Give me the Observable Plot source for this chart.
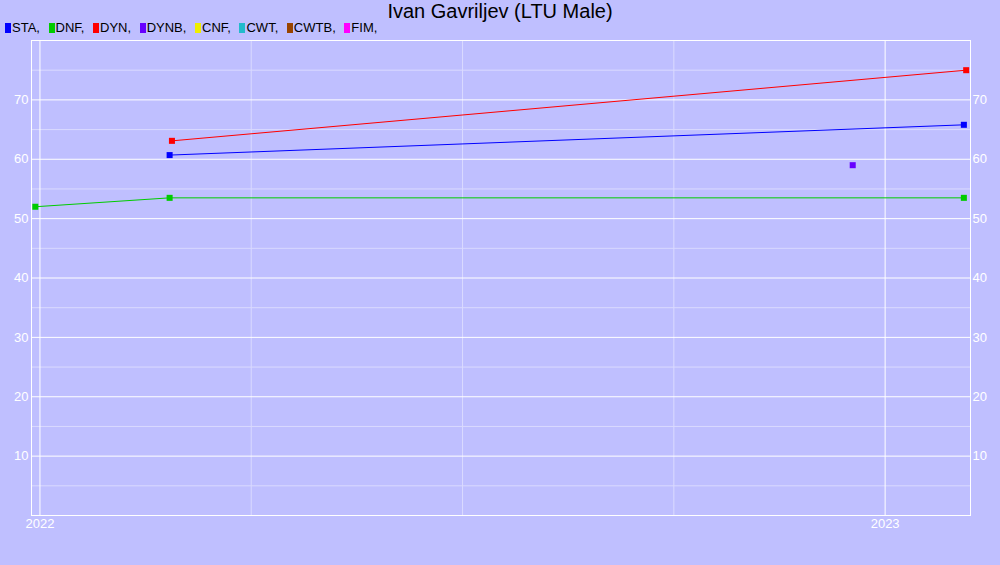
<!DOCTYPE html>
<html>
<head>
<meta charset="utf-8">
<script src="https://cdn.jsdelivr.net/npm/d3@7"></script>
<script src="https://cdn.jsdelivr.net/npm/@observablehq/plot@0.6"></script>
<style>
  html, body { margin: 0; padding: 0; background: #bfbfff; }
  body { width: 1000px; height: 565px; overflow: hidden; font-family: "Liberation Sans", Arial, sans-serif; }
  #header { position: relative; height: 36px; }
  #title { position: absolute; left: 0; right: 0; top: 1px; text-align: center; font-size: 20px; line-height: 20px; color: #000; }
  #legend { position: absolute; left: 5px; top: 21px; display: flex; font-size: 13px; line-height: 13px; color: #000; }
  .item { display: flex; align-items: center; margin-right: 8.6px; }
  .sw { display: inline-block; width: 6px; height: 10px; margin-right: 1px; }
  #chart svg { display: block; }
</style>
</head>
<body>
<div id="header"><div id="title"></div><div id="legend"></div></div>
<div id="chart"></div>
<script>
const titleText = "Ivan Gavriljev (LTU Male)";
const events = ["STA", "DNF", "DYN", "DYNB", "CNF", "CWT", "CWTB", "FIM"];
const eventColors = ["#0000ff", "#00cc00", "#ff0000", "#6600ff", "#eeee00", "#22bbcc", "#994400", "#ff00ff"];

const staDates = ["2022-02-26", "2023-02-04"];
const staValues = [60.7, 65.8];
const dnfDates = ["2021-12-30", "2022-02-26", "2023-02-04"];
const dnfValues = [52.0, 53.5, 53.5];
const dynDates = ["2022-02-27", "2023-02-05"];
const dynValues = [63.1, 75.0];
const dynbDates = ["2022-12-18"];
const dynbValues = [59.0];

const yTicks = [10, 20, 30, 40, 50, 60, 70];
const yMinor = [5, 15, 25, 35, 45, 55, 65, 75];
const yearTicks = [2022, 2023];
const quarterLines = [2022.25, 2022.5, 2022.75];

function decYear(s) {
  const d = new Date(s + "T00:00:00Z");
  const y = d.getUTCFullYear();
  const a = Date.UTC(y, 0, 1), b = Date.UTC(y + 1, 0, 1);
  return y + (d - a) / (b - a);
}

const rows = [];
function add(ev, dates, vals) {
  dates.forEach((d, i) => rows.push({event: ev, x: decYear(d), value: vals[i]}));
}
add("STA", staDates, staValues);
add("DNF", dnfDates, dnfValues);
add("DYN", dynDates, dynValues);
add("DYNB", dynbDates, dynbValues);

document.getElementById("title").textContent = titleText;
const legend = document.getElementById("legend");
events.forEach((e, i) => {
  const it = document.createElement("span");
  it.className = "item";
  const sw = document.createElement("span");
  sw.className = "sw";
  sw.style.background = eventColors[i];
  const tx = document.createElement("span");
  tx.textContent = e + ",";
  it.appendChild(sw); it.appendChild(tx);
  legend.appendChild(it);
});

const chart = Plot.plot({
  width: 1000,
  height: 529,
  marginTop: 4,
  marginBottom: 50,
  marginLeft: 31,
  marginRight: 30,
  style: {background: "#bfbfff", fontFamily: "Liberation Sans, Arial, sans-serif", fontSize: "13px"},
  x: {type: "linear", domain: [2021.99, 2023.101], label: null},
  y: {domain: [0, 80], label: null},
  color: {type: "ordinal", domain: events, range: eventColors},
  marks: [
    Plot.ruleY(yMinor, {stroke: "#dadaff", strokeWidth: 1}),
    Plot.ruleX(quarterLines, {stroke: "#dadaff", strokeWidth: 1}),
    Plot.ruleY(yTicks, {stroke: "#ffffff", strokeWidth: 1}),
    Plot.ruleX(yearTicks, {stroke: "#ffffff", strokeWidth: 1}),
    Plot.frame({stroke: "#ffffff", strokeWidth: 1}),
    Plot.line(rows, {x: "x", y: "value", z: "event", stroke: "event", strokeWidth: 1}),
    Plot.dot(rows, {x: "x", y: "value", fill: "event", symbol: "square", r: 3.4}),
    Plot.axisY({anchor: "left", ticks: yTicks, tickSize: 0, tickPadding: 3, color: "#ffffff", fontSize: 13, label: null}),
    Plot.axisY({anchor: "right", ticks: yTicks, tickSize: 0, tickPadding: 2, color: "#ffffff", fontSize: 13, label: null}),
    Plot.axisX({anchor: "bottom", ticks: yearTicks, tickFormat: d => String(d), tickSize: 0, tickPadding: 3, color: "#ffffff", fontSize: 13, label: null})
  ]
});
document.getElementById("chart").appendChild(chart);
</script>
</body>
</html>
